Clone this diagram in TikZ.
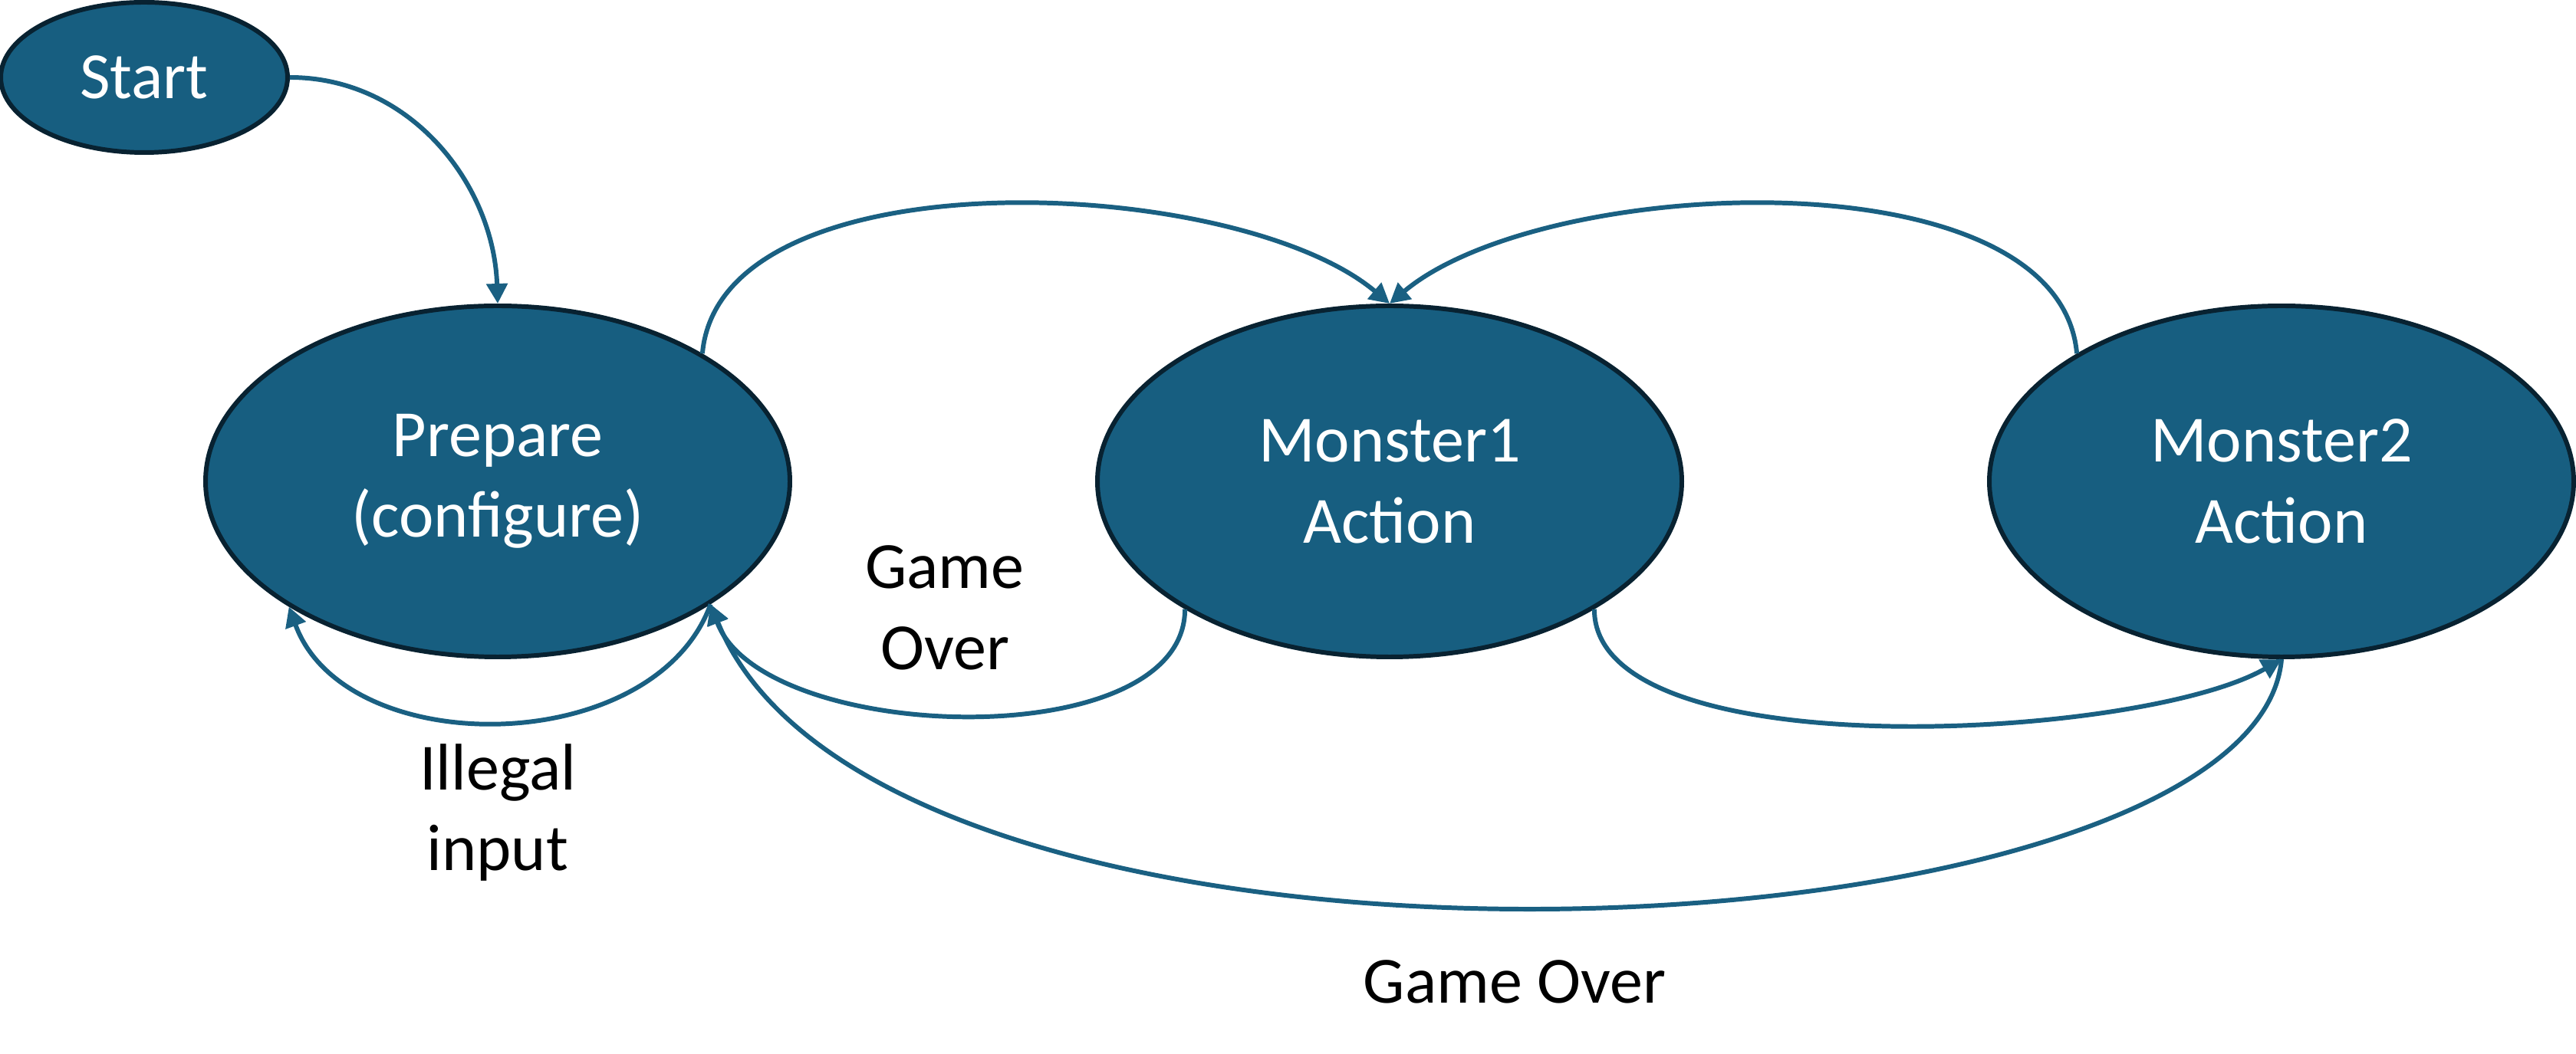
\documentclass[tikz,border=0pt]{standalone}
\usepackage{fontspec}
\setmainfont{Carlito}
\usetikzlibrary{arrows.meta,shapes.geometric}
\definecolor{statefill}{RGB}{23,94,128}
\definecolor{stateline}{RGB}{8,34,49}
\definecolor{edgeblue}{RGB}{26,96,130}
\begin{document}
\begin{tikzpicture}[>={Triangle[length=2.6mm,width=2.7mm]},
  state/.style={ellipse, draw=stateline, fill=statefill, line width=1.7pt, text=white, align=center, inner sep=0pt, minimum width=7.62cm, minimum height=4.58cm},
  trans/.style={->, draw=edgeblue, line width=1.7pt},
  lbl/.style={align=center, text=black},
  every node/.append style={font=\fontsize{24.5}{30}\selectfont}]
\useasboundingbox (0,0) rectangle (33.59,-13.75);
\node[state, minimum width=3.74cm, minimum height=1.96cm] (start) at (1.88,-1.01){Start};
\node[state] (prep) at (6.49,-6.28){Prepare\\(configure)};
\node[state] (mon1) at (18.12,-6.28){Monster1\\Action};
\node[state] (mon2) at (29.75,-6.28){Monster2\\Action};
\draw[trans] (start.east) to[out=0,in=92] (prep.north);
\draw[trans] (prep.32) to[out=85,in=140,looseness=0.75] (mon1.north);
\draw[trans] (mon2.148) to[out=95,in=40,looseness=0.75] (mon1.north);
\draw[trans] (mon1.212) to[out=-90,in=-70,looseness=0.8] (prep.330);
\draw[trans] (prep.330) to[out=-110,in=-70] (prep.211);
\draw[trans] (mon1.328) to[out=-90,in=-150,looseness=0.6] (mon2.south);
\draw[trans] (mon2.south) to[out=-95,in=-68,out looseness=0.5,in looseness=0.75] (prep.330);
\node[lbl] (go1) at (12.32,-7.93){Game\\Over};
\node[lbl] (illegal) at (6.49,-10.60){Illegal\\input};
\node[lbl] (go2) at (19.75,-12.81){Game Over};
\end{tikzpicture}
\end{document}
